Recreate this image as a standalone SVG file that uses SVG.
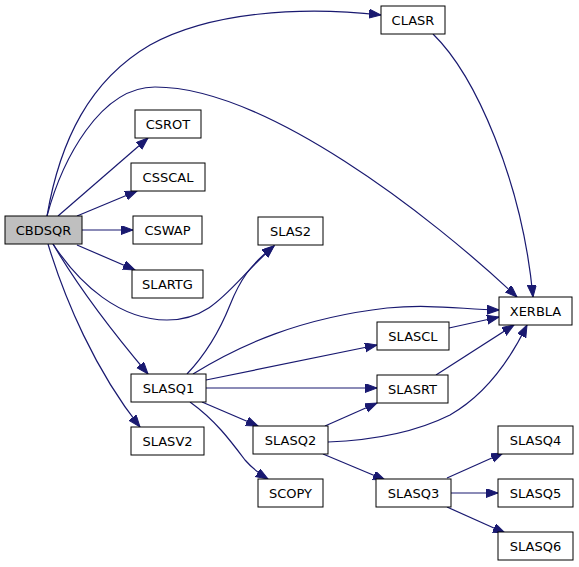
<svg xmlns="http://www.w3.org/2000/svg" width="579" height="567" viewBox="0 0 579 567">
<defs>
<style>
.n rect{fill:#ffffff;stroke:#000000;stroke-width:1}
.n.root rect{fill:#bfbfbf}
.n text{font-family:"DejaVu Sans","Liberation Sans",sans-serif;font-size:13px;fill:#000000;text-anchor:middle}
#edges path{fill:none;stroke:#191970;stroke-width:1.2;marker-end:url(#arr)}
</style>
<marker id="arr" markerUnits="userSpaceOnUse" markerWidth="13" markerHeight="10" refX="12" refY="4.5" orient="auto">
<path d="M0,0 L12,4.5 L0,9 z" fill="#191970" stroke="#191970" stroke-width="1"/>
</marker>
</defs>
<rect width="579" height="567" fill="#ffffff"/>
<g id="edges">
<path d="M47,216 C60,140 90,80 150,45 C210,12 300,6 381,15"/>
<path d="M47,216 C62,160 100,87 155,87 C265,87 430,215 517,297"/>
<path d="M433,34 C475,75 522,180 533,297"/>
<path d="M58,216 L148,138"/>
<path d="M77,216 L137,191"/>
<path d="M82,230 L133,230"/>
<path d="M77,245 L135,270"/>
<path d="M53,244 C80,285 120,320 167,320 C215,320 230,285 274,246"/>
<path d="M187,374 C205,355 220,330 230,305 C240,280 250,265 274,246"/>
<path d="M53,244 C80,290 115,335 148,374"/>
<path d="M48,244 C65,300 95,370 140,427"/>
<path d="M193,374 C240,345 300,318 387,308 C430,304 460,309 499,310"/>
<path d="M206,380 L377,345"/>
<path d="M206,388 L377,388"/>
<path d="M202,402 L258,426"/>
<path d="M190,402 C215,420 230,440 245,460 C252,468 258,473 268,479"/>
<path d="M449,328 L499,317"/>
<path d="M436,375 L514,325"/>
<path d="M328,442 C380,440 420,430 450,415 C485,395 510,360 527,325"/>
<path d="M325,426 L377,403"/>
<path d="M323,454 L385,480"/>
<path d="M447,478 L503,453"/>
<path d="M451,493 L498,493"/>
<path d="M447,507 L505,533"/>
</g>
<g id="CBDSQR" class="n root"><rect x="5" y="216" width="77" height="28"/><text x="43.5" y="234.5">CBDSQR</text></g>
<g id="CLASR" class="n"><rect x="381" y="6" width="64" height="28"/><text x="413" y="24.5">CLASR</text></g>
<g id="CSROT" class="n"><rect x="135" y="110" width="66" height="28"/><text x="168" y="128.5">CSROT</text></g>
<g id="CSSCAL" class="n"><rect x="131" y="163" width="74" height="28"/><text x="168" y="181.5">CSSCAL</text></g>
<g id="CSWAP" class="n"><rect x="133" y="216" width="69" height="28"/><text x="167.5" y="234.5">CSWAP</text></g>
<g id="SLARTG" class="n"><rect x="132" y="270" width="71" height="28"/><text x="167.5" y="288.5">SLARTG</text></g>
<g id="SLAS2" class="n"><rect x="258" y="217" width="65" height="28"/><text x="290.5" y="235.5">SLAS2</text></g>
<g id="XERBLA" class="n"><rect x="499" y="297" width="73" height="28"/><text x="535.5" y="315.5">XERBLA</text></g>
<g id="SLASCL" class="n"><rect x="377" y="322" width="72" height="28"/><text x="413" y="340.5">SLASCL</text></g>
<g id="SLASRT" class="n"><rect x="377" y="375" width="71" height="28"/><text x="412.5" y="393.5">SLASRT</text></g>
<g id="SLASQ1" class="n"><rect x="131" y="374" width="75" height="28"/><text x="168.5" y="392.5">SLASQ1</text></g>
<g id="SLASV2" class="n"><rect x="131" y="427" width="73" height="28"/><text x="167.5" y="445.5">SLASV2</text></g>
<g id="SLASQ2" class="n"><rect x="253" y="426" width="75" height="28"/><text x="290.5" y="444.5">SLASQ2</text></g>
<g id="SCOPY" class="n"><rect x="258" y="479" width="65" height="28"/><text x="290.5" y="497.5">SCOPY</text></g>
<g id="SLASQ3" class="n"><rect x="376" y="479" width="75" height="28"/><text x="413.5" y="497.5">SLASQ3</text></g>
<g id="SLASQ4" class="n"><rect x="498" y="426" width="75" height="28"/><text x="535.5" y="444.5">SLASQ4</text></g>
<g id="SLASQ5" class="n"><rect x="498" y="479" width="75" height="28"/><text x="535.5" y="497.5">SLASQ5</text></g>
<g id="SLASQ6" class="n"><rect x="498" y="532" width="75" height="28"/><text x="535.5" y="550.5">SLASQ6</text></g>
</svg>
